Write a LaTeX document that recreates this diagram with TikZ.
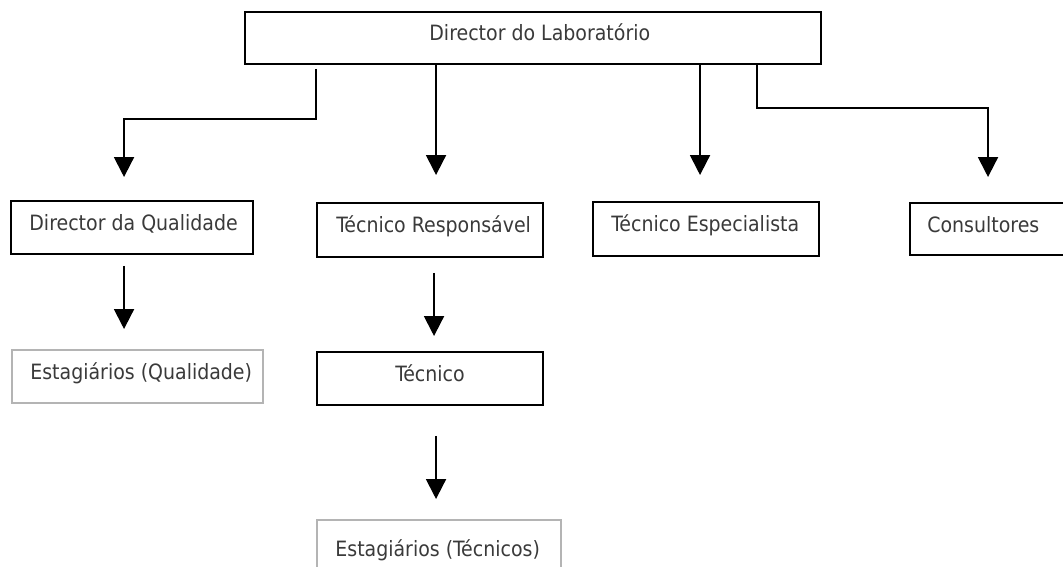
\documentclass[tikz,border=0pt]{standalone}
\usepackage{fontspec}
\setmainfont{DejaVu Sans Condensed}
\usepackage{tikz}
\usetikzlibrary{arrows.meta, fit}
\definecolor{textgray}{HTML}{3A3A3A}
\definecolor{framegray}{HTML}{B4B4B4}

\begin{document}
\begin{tikzpicture}[x=0.02cm, y=-0.02cm, >={Triangle[length=0.4cm, width=0.4cm]},
                    box/.style={draw, line width=1.1pt, inner sep=0pt},
                    greybox/.style={box, draw=framegray},
                    boxtext/.style={anchor=base west, inner sep=0pt, text=textgray, font=\fontsize{12}{14}\selectfont},
                    link/.style={->, line width=1.1pt}]
                      \useasboundingbox (0,0) rectangle (1063,567);

                      % boxes
                      \node[box, fit={(245,12) (821,64)}] (lab) {};
                      \node[boxtext] (labtxt) at ([shift={(185,29)}]lab.north west) {Director do Laboratório};
                      \node[box, fit={(11,201) (253,254)}] (dq) {};
                      \node[boxtext] (dqtxt) at ([shift={(19,30)}]dq.north west) {Director da Qualidade};
                      \node[box, fit={(317,203) (543,257)}] (tr) {};
                      \node[boxtext] (trtxt) at ([shift={(20,30)}]tr.north west) {Técnico Responsável};
                      \node[box, fit={(593,202) (819,256)}] (te) {};
                      \node[boxtext] (tetxt) at ([shift={(19,30)}]te.north west) {Técnico Especialista};
                      \node[box, fit={(910,203) (1080,255)}] (cons) {};
                      \node[boxtext] (constxt) at ([shift={(18,30)}]cons.north west) {Consultores};
                      \node[greybox, fit={(12,350) (263,403)}] (eq) {};
                      \node[boxtext] (eqtxt) at ([shift={(19,30)}]eq.north west) {Estagiários (Qualidade)};
                      \node[box, fit={(317,352) (543,405)}] (tec) {};
                      \node[boxtext, anchor=base] (tectxt) at ([shift={(0,30)}]tec.north) {Técnico};
                      \node[greybox, fit={(317,520) (561,600)}] (et) {};
                      \node[boxtext] (ettxt) at ([shift={(19,37)}]et.north west) {Estagiários (Técnicos)};

                      % arrows
                      \draw[link] ([shift={(72,4)}]lab.south west) -- ++(0,50) -| ([shift={(114,-23)}]dq.north west);
                      \draw[link] ([shift={(192,0)}]lab.south west) -- ([shift={(120,-27)}]tr.north west);
                      \draw[link] ([shift={(456,0)}]lab.south west) -- ([shift={(108,-26)}]te.north west);
                      \draw[link] ([shift={(513,0)}]lab.south west) -- ++(0,43) -| ([shift={(79,-25)}]cons.north west);
                      \draw[link] ([shift={(114,11)}]dq.south west) -- ([shift={(113,-20)}]eq.north west);
                      \draw[link] ([shift={(118,15)}]tr.south west) -- ([shift={(118,-15)}]tec.north west);
                      \draw[link] ([shift={(120,30)}]tec.south west) -- ([shift={(120,-20)}]et.north west);

                    \end{tikzpicture}
\end{document}
